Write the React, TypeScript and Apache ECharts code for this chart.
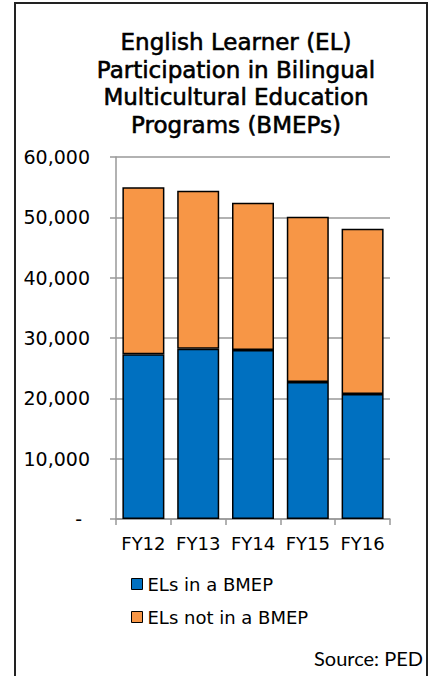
import React, { useEffect, useRef } from "react";
import * as echarts from "echarts";

const categories = ["FY12", "FY13", "FY14", "FY15", "FY16"];
const inBmep = [27300, 28200, 28000, 22700, 20700];
const notInBmep = [27700, 26200, 24400, 27400, 27400];
const seriesNames = ["ELs in a BMEP", "ELs not in a BMEP"];
const titleText = "English Learner (EL)\nParticipation in Bilingual\nMulticultural Education\nPrograms (BMEPs)";
const sourceText = "Source: PED";

export default function App() {
  const ref = useRef<HTMLDivElement>(null);
  useEffect(() => {
    if (!ref.current) return;
    const chart = echarts.init(ref.current, null, { renderer: "svg" });
    const font = "DejaVu Sans";
    chart.setOption({
      animation: false,
      backgroundColor: "#ffffff",
      title: {
        text: titleText,
        left: 236,
        top: 28,
        padding: 0,
        textAlign: "center",
        textStyle: {
          fontFamily: font,
          fontSize: 23,
          fontWeight: "normal",
          lineHeight: 27.7,
          color: "#000",
          textBorderColor: "#000",
          textBorderWidth: 0.6,
        },
      },
      grid: { left: 116, right: 43, top: 157, bottom: 157, containLabel: false },
      legend: {
        orient: "vertical",
        left: 131,
        top: 574,
        padding: 0,
        icon: "rect",
        itemWidth: 11,
        itemHeight: 11,
        itemGap: 13,
        itemTextGap: 5,
        itemStyle: { borderColor: "#000", borderWidth: 1 },
        textStyle: { fontFamily: font, fontSize: 18, color: "#000", lineHeight: 20 },
        data: seriesNames,
      },
      xAxis: {
        type: "category",
        data: categories,
        axisLine: { lineStyle: { color: "#999", width: 1.5 } },
        axisTick: { show: true, length: 6, lineStyle: { color: "#999", width: 1.5 } },
        axisLabel: { fontFamily: font, fontSize: 18, color: "#000", margin: 15, interval: 0 },
      },
      yAxis: {
        type: "value",
        min: 0,
        max: 60000,
        interval: 10000,
        axisLine: { show: true, lineStyle: { color: "#999", width: 1.5 } },
        axisTick: { show: true, length: 6, lineStyle: { color: "#999", width: 1.5 } },
        splitLine: { lineStyle: { color: "#999", width: 1.5 } },
        axisLabel: {
          fontFamily: font,
          fontSize: 19,
          color: "#000",
          margin: 26,
          formatter: (v: number) => (v === 0 ? "{d|-}" : v.toLocaleString("en-US")),
          rich: { d: { fontFamily: font, fontSize: 19, color: "#000", padding: [0, 8, 0, 0] } },
        },
      },
      series: [
        {
          name: seriesNames[0],
          type: "bar",
          stack: "total",
          barWidth: 42,
          data: inBmep,
          itemStyle: { color: "#0070C0", borderColor: "#000", borderWidth: 1.5 },
        },
        {
          name: seriesNames[1],
          type: "bar",
          stack: "total",
          barWidth: 42,
          data: notInBmep,
          itemStyle: { color: "#F79646", borderColor: "#000", borderWidth: 1.5 },
        },
      ],
      graphic: [
        {
          type: "rect",
          shape: { x: 15, y: 3, width: 412, height: 700 },
          style: { fill: "none", stroke: "#222", lineWidth: 2 },
          silent: true,
        },
        {
          type: "text",
          x: 423,
          y: 658,
          style: {
            text: sourceText,
            fontFamily: "Lato",
            fontSize: 20,
            fill: "#000",
            align: "right",
            verticalAlign: "middle",
          },
        },
      ],
    });
    return () => chart.dispose();
  }, []);
  return (
    <div
      ref={ref}
      style={{ position: "absolute", left: 0, top: 0, width: 433, height: 676 }}
    />
  );
}
